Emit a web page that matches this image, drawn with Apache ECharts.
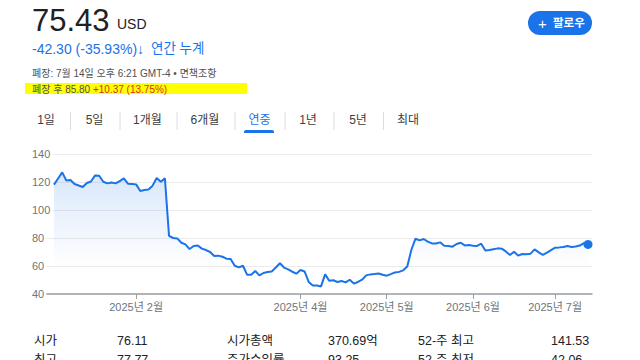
<!DOCTYPE html>
<html><head><meta charset="utf-8">
<script src="https://cdn.jsdelivr.net/npm/echarts@6.0.0/dist/echarts.min.js"></script>
<style>html,body{margin:0;padding:0;background:#fff}#c{width:640px;height:360px}</style>
</head><body><div id="c"></div>
<script>
const dates = [
'2025-01-02','2025-01-03','2025-01-06','2025-01-07','2025-01-08','2025-01-10','2025-01-13','2025-01-14','2025-01-15','2025-01-16','2025-01-17','2025-01-21','2025-01-22','2025-01-23','2025-01-24','2025-01-27','2025-01-28','2025-01-29','2025-01-30','2025-01-31',
'2025-02-03','2025-02-04','2025-02-05','2025-02-06','2025-02-07','2025-02-10','2025-02-11','2025-02-12','2025-02-13','2025-02-14','2025-02-18','2025-02-19','2025-02-20','2025-02-21','2025-02-24','2025-02-25','2025-02-26','2025-02-27','2025-02-28',
'2025-03-03','2025-03-04','2025-03-05','2025-03-06','2025-03-07','2025-03-10','2025-03-11','2025-03-12','2025-03-13','2025-03-14','2025-03-17','2025-03-18','2025-03-19','2025-03-20','2025-03-21','2025-03-24','2025-03-25','2025-03-26','2025-03-27','2025-03-28','2025-03-31',
'2025-04-01','2025-04-02','2025-04-03','2025-04-04','2025-04-07','2025-04-08','2025-04-09','2025-04-10','2025-04-11','2025-04-14','2025-04-15','2025-04-16','2025-04-17','2025-04-21','2025-04-22','2025-04-23','2025-04-24','2025-04-25','2025-04-28','2025-04-29','2025-04-30',
'2025-05-01','2025-05-02','2025-05-05','2025-05-06','2025-05-07','2025-05-08','2025-05-09','2025-05-12','2025-05-13','2025-05-14','2025-05-15','2025-05-16','2025-05-19','2025-05-20','2025-05-21','2025-05-22','2025-05-23','2025-05-27','2025-05-28','2025-05-29','2025-05-30',
'2025-06-02','2025-06-03','2025-06-04','2025-06-05','2025-06-06','2025-06-09','2025-06-10','2025-06-11','2025-06-12','2025-06-13','2025-06-16','2025-06-17','2025-06-18','2025-06-20','2025-06-23','2025-06-24','2025-06-25','2025-06-26','2025-06-27','2025-06-30',
'2025-07-01','2025-07-02','2025-07-03','2025-07-07','2025-07-08','2025-07-09','2025-07-10','2025-07-11','2025-07-14'
];
const closes = [
118.1,122.5,126.9,121.1,121.4,118.6,117.5,116.4,119.3,120.4,124.7,124.5,120.2,119.0,119.7,119.0,120.6,122.6,118.8,118.6,
118.3,113.6,114.3,114.7,117.4,122.9,120.2,122.6,81.6,80.0,79.7,76.6,75.4,72.1,74.3,74.7,72.4,71.4,70.0,
67.1,67.4,66.6,65.2,65.0,60.2,59.0,60.2,53.8,53.8,56.4,53.3,55.0,55.7,56.1,58.9,62.0,58.9,57.6,55.9,54.5,
57.1,56.1,48.6,46.1,46.1,45.4,54.0,49.5,49.8,48.6,49.3,48.3,50.2,47.4,48.6,50.2,53.3,54.0,54.3,54.7,53.8,
53.1,54.2,55.4,55.8,56.9,59.7,71.6,79.5,78.3,79.3,77.4,76.1,76.1,76.9,74.5,74.3,73.8,75.7,76.6,74.7,75.0,
74.5,74.3,75.9,71.1,71.4,72.0,72.6,72.4,70.4,67.9,70.2,67.4,68.6,68.4,68.8,71.9,69.7,67.9,69.5,71.4,
73.1,73.3,73.6,74.3,73.6,74.0,74.6,76.4,75.43
];
const tickDates = ['2025-02-03','2025-04-01','2025-05-01','2025-06-02','2025-07-01'];
const tickLabels = ['2025년 2월','2025년 4월','2025년 5월','2025년 6월','2025년 7월'];
const yMin = 40, yMax = 140, yStep = 20;

const tabs = ['1일','5일','1개월','6개월','연중','1년','5년','최대'];
const statLabels1 = ['시가','시가총액','52-주 최고'];
const statValues1 = ['76.11','370.69억','141.53'];
const statLabels2 = ['최고','주가수익률','52-주 최저'];
const statValues2 = ['77.77','93.25','42.06'];

const FONT = "'Liberation Sans', Arial, 'Noto Sans CJK KR', sans-serif";
const BLUE = '#1a73e8';

const tickIdx = tickDates.map(d => dates.indexOf(d));
const seriesData = closes.map((v, i) => [i, v]);

const chart = echarts.init(document.getElementById('c'), null, {renderer: 'svg'});

function txt(x, y, text, size, color, extra) {
  return Object.assign({
    type: 'text', silent: true,
    style: Object.assign({
      x: x, y: y, text: text, fontSize: size, fontFamily: FONT, fill: color,
      align: 'left', verticalAlign: 'middle', textAlign: 'left', textVerticalAlign: 'middle'
    }, extra || {})
  });
}

const tabCenters = [46, 94.5, 147.5, 205, 259.5, 308, 358, 408];
const tabSeps = [70.5, 120, 177, 235, 285, 334, 383.5];

const graphics = [];
// header
graphics.push(txt(32, 20, '75.43', 31, '#202124'));
graphics.push(txt(117, 24, 'USD', 14, '#202124'));
graphics.push(txt(32, 49, '-42.30 (-35.93%)', 14, BLUE));
graphics.push(txt(137, 49, '↓', 14, BLUE, {fontWeight: 'bold'}));
graphics.push(txt(151, 48, '연간 누계', 13.5, BLUE));
graphics.push(txt(32, 73, '폐장: 7월 14일 오후 6:21 GMT-4 • 면책조항', 10, '#4d5156'));
graphics.push({type: 'rect', silent: true, shape: {x: 25, y: 83, width: 222, height: 11}, style: {fill: '#ffff00'}});
graphics.push(txt(32, 89, '{g|폐장 후 85.80 }{r|+10.37 (13.75%)}', 10, '#4d5156', {
  rich: {g: {fontSize: 10, fontFamily: FONT, fill: '#4d5156', color: '#4d5156'},
         r: {fontSize: 10, fontFamily: FONT, fill: '#d93025', color: '#d93025'}}
}));
// follow button
graphics.push({type: 'rect', silent: true, shape: {x: 528, y: 11, width: 64, height: 24, r: 12}, style: {fill: BLUE}});
graphics.push(txt(538, 23.5, '+', 15, '#ffffff'));
graphics.push(txt(553, 23, '팔로우', 11.5, '#ffffff', {fontWeight: 'bold'}));
// tabs
tabs.forEach((t, i) => {
  graphics.push(txt(tabCenters[i], 120, t, 12, i === 4 ? BLUE : '#3c4043', {align: 'center', textAlign: 'center'}));
});
tabSeps.forEach(x => {
  graphics.push({type: 'line', silent: true, shape: {x1: x, y1: 112, x2: x, y2: 130}, style: {stroke: '#dadce0', lineWidth: 1}});
});
graphics.push({type: 'rect', silent: true, shape: {x: 244, y: 130, width: 30, height: 3, r: [2, 2, 0, 0]}, style: {fill: BLUE}});
// stats table
const colX = [34, 117, 227, 328, 418, 551];
[[statLabels1, statValues1, 341], [statLabels2, statValues2, 360]].forEach(row => {
  const [labs, vals, y] = row;
  for (let i = 0; i < 3; i++) {
    graphics.push(txt(colX[i * 2], y, labs[i], 12.5, '#202124'));
    graphics.push(txt(colX[i * 2 + 1], y, vals[i], 12.5, '#202124'));
  }
});

chart.setOption({
  animation: false,
  grid: {left: 44, right: 48, top: 154, bottom: 66, containLabel: false},
  xAxis: {
    type: 'value', min: -2.434, max: 130.97,
    splitLine: {show: false},
    axisLine: {show: true, lineStyle: {color: '#9aa0a6', width: 1.5}},
    axisTick: {show: true, length: 5, customValues: tickIdx, lineStyle: {color: '#9aa0a6', width: 1}},
    axisLabel: {
      show: true, customValues: tickIdx, margin: 7, fontSize: 11, color: '#70757a', fontFamily: FONT,
      formatter: v => { const k = tickIdx.indexOf(Math.round(v)); return k >= 0 ? tickLabels[k] : ''; }
    }
  },
  yAxis: {
    type: 'value', min: yMin, max: yMax, interval: yStep,
    axisLine: {show: false}, axisTick: {show: false},
    splitLine: {lineStyle: {color: '#ebebeb', width: 1}},
    axisLabel: {align: 'left', margin: 12, fontSize: 11, color: '#70757a', fontFamily: FONT,
                backgroundColor: '#ffffff', padding: [0, 2, 0, 0]}
  },
  series: [{
    type: 'line', data: seriesData,
    showSymbol: true, symbol: 'circle',
    symbolSize: (v, p) => p.dataIndex === closes.length - 1 ? 9 : 0,
    itemStyle: {color: BLUE},
    lineStyle: {color: BLUE, width: 2},
    areaStyle: {color: new echarts.graphic.LinearGradient(0, 0, 0, 1, [
      {offset: 0, color: 'rgba(26,115,232,0.24)'},
      {offset: 0.78, color: 'rgba(26,115,232,0)'}
    ])},
    emphasis: {disabled: true}, silent: true
  }],
  graphic: graphics
});
</script>
</body></html>
